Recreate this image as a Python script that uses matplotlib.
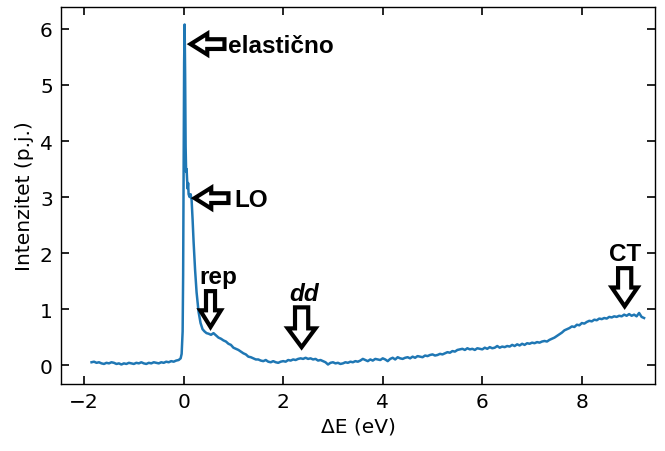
import numpy as np
import matplotlib
matplotlib.use("Agg")
import matplotlib.pyplot as plt

# --- data -------------------------------------------------------------
# baseline (-1.85 .. -0.10 eV, step 0.05)
base_E = np.round(np.arange(-1.85, -0.0999, 0.05), 3)
base_I = [0.05, 0.06, 0.04, 0.05, 0.03, 0.02, 0.04, 0.03, 0.05, 0.04,
          0.02, 0.03, 0.01, 0.03, 0.02, 0.04, 0.03, 0.02, 0.04, 0.03,
          0.05, 0.03, 0.02, 0.04, 0.03, 0.05, 0.04, 0.03, 0.05, 0.04,
          0.06, 0.05, 0.07, 0.06, 0.08, 0.09]

# elastic peak + LO region (fine sampling)
peak_E = [-0.06, -0.04, -0.02, -0.01, 0.00, 0.01, 0.02, 0.03, 0.04, 0.05,
          0.06, 0.07, 0.08, 0.09, 0.10, 0.12, 0.14, 0.16, 0.18, 0.20,
          0.23, 0.26, 0.30, 0.34, 0.38, 0.42, 0.46]
peak_I = [0.12, 0.20, 0.60, 1.60, 3.50, 5.40, 6.08, 5.20, 3.90, 3.45,
          3.50, 3.30, 3.15, 3.25, 3.05, 3.00, 3.05, 2.95, 2.60, 2.20,
          1.70, 1.30, 0.95, 0.75, 0.64, 0.60, 0.57]

# tail (0.50 .. 9.25 eV, step 0.05)
tail_E = np.round(np.arange(0.50, 9.2501, 0.05), 3)
tail_I = [0.56, 0.54, 0.57, 0.53, 0.49, 0.47, 0.44, 0.42, 0.38, 0.36,
          0.31, 0.29, 0.27, 0.24, 0.21, 0.19, 0.15, 0.14, 0.12, 0.10,
          0.10, 0.08, 0.07, 0.09, 0.06, 0.05, 0.07, 0.05, 0.04, 0.06,
          0.07, 0.06, 0.09, 0.08, 0.10, 0.09, 0.11, 0.12, 0.11, 0.13,
          0.11, 0.12, 0.10, 0.11, 0.08, 0.09, 0.07, 0.05, 0.01, 0.04,
          0.05, 0.03, 0.04, 0.02, 0.03, 0.05, 0.04, 0.06, 0.05, 0.07,
          0.06, 0.08, 0.11, 0.09, 0.07, 0.10, 0.08, 0.11, 0.10, 0.09,
          0.12, 0.10, 0.07, 0.11, 0.13, 0.10, 0.14, 0.12, 0.11, 0.13,
          0.14, 0.12, 0.15, 0.13, 0.16, 0.15, 0.14, 0.17, 0.16, 0.18,
          0.19, 0.17, 0.18, 0.20, 0.19, 0.21, 0.23, 0.22, 0.25, 0.24,
          0.27, 0.28, 0.29, 0.27, 0.30, 0.28, 0.29, 0.27, 0.30, 0.29,
          0.28, 0.31, 0.29, 0.32, 0.30, 0.31, 0.34, 0.31, 0.33, 0.32,
          0.34, 0.33, 0.36, 0.34, 0.37, 0.35, 0.38, 0.36, 0.39, 0.38,
          0.40, 0.39, 0.41, 0.40, 0.42, 0.43, 0.42, 0.45, 0.47, 0.49,
          0.52, 0.55, 0.58, 0.62, 0.64, 0.66, 0.69, 0.68, 0.72, 0.71,
          0.75, 0.74, 0.77, 0.79, 0.78, 0.81, 0.80, 0.83, 0.82, 0.84,
          0.83, 0.86, 0.85, 0.87, 0.86, 0.88, 0.87, 0.90, 0.88, 0.91,
          0.88, 0.90, 0.87, 0.93, 0.86, 0.84]

energy = np.concatenate([base_E, peak_E, tail_E])
intensity = np.concatenate([base_I, peak_I, tail_I])

xticks = [-2, 0, 2, 4, 6, 8]
yticks = [0, 1, 2, 3, 4, 5, 6]

labels = ["elastično", "LO", "rep", "dd", "CT"]

# --- plot -------------------------------------------------------------
fig = plt.figure(figsize=(6.65, 4.52), dpi=100)
ax = fig.add_axes([0.092, 0.148, 0.893, 0.834])
ax.plot(energy, intensity, color="#1f77b4", lw=1.8)

ax.set_xlim(-2.46, 9.47)
ax.set_ylim(-0.34, 6.39)
ax.set_xticks(xticks)
ax.set_yticks(yticks)
ax.tick_params(direction="in", length=6, width=1.2, top=True, right=True,
               labelsize=14.5, pad=6)
ax.set_xlabel("ΔE (eV)", fontsize=14.5, labelpad=4)
ax.set_ylabel("Intenzitet (p.j.)", fontsize=14.5, labelpad=4)
for s in ax.spines.values():
    s.set_linewidth(1.0)

afont = dict(family=["Liberation Sans", "DejaVu Sans"], weight="bold", fontsize=17.5)


def arrow(tip, tail, hw, tw, hl):
    style = f"simple,head_length={hl},head_width={hw},tail_width={tw}"
    ax.annotate("", xy=tip, xytext=tail,
                arrowprops=dict(arrowstyle=style, mutation_scale=10,
                                fc="white", ec="black", lw=3.0,
                                joinstyle="miter", shrinkA=0, shrinkB=0))


# left-pointing arrows
arrow((0.14, 5.73), (0.82, 5.73), 1.5, 0.7, 1.2)
ax.text(0.90, 5.70, labels[0], ha="left", va="center", **afont)
arrow((0.22, 2.98), (0.90, 2.98), 1.5, 0.7, 1.2)
ax.text(1.02, 2.95, labels[1], ha="left", va="center", **afont)

# down-pointing arrows
arrow((0.54, 0.68), (0.54, 1.32), 1.5, 0.65, 1.2)
ax.text(0.70, 1.58, labels[2], ha="center", va="center", **afont)
arrow((2.37, 0.32), (2.37, 1.03), 2.0, 0.95, 1.35)
ax.text(2.42, 1.28, labels[3], ha="center", va="center", style="italic", **afont)
arrow((8.86, 1.05), (8.86, 1.73), 1.85, 0.95, 1.35)
ax.text(8.86, 2.00, labels[4], ha="center", va="center", **afont)

fig.savefig("out.png", dpi=100)
